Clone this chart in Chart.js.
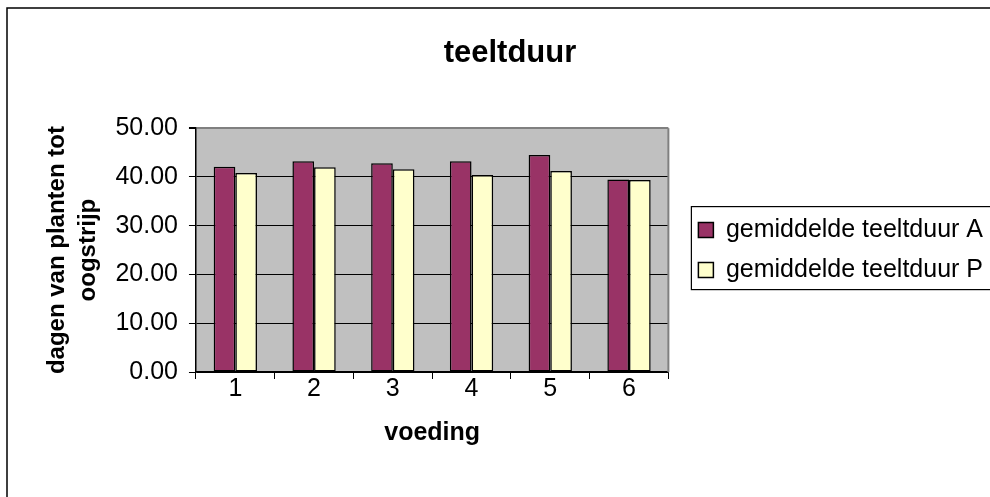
<!DOCTYPE html>
<html lang="nl">
<head>
  <meta charset="UTF-8">
  <title>teeltduur</title>
  <script src="https://cdn.jsdelivr.net/npm/chart.js"></script>
  <style>
    html, body {
      margin: 0;
      padding: 0;
      background: #fff;
      overflow: hidden;
    }
    #wrap {
      position: relative;
      width: 990px;
      height: 497px;
    }
  </style>
</head>
<body>
  <div id="wrap">
    <canvas id="teeltChart"></canvas>
  </div>

  <script>
    // values
    const voeding = ['1', '2', '3', '4', '5', '6'];
    const teeltduurA = [42.1, 43.2, 42.8, 43.2, 44.5, 39.5];
    const teeltduurP = [40.8, 42.0, 41.6, 40.4, 41.2, 39.4];
    const yTicks = [0, 10, 20, 30, 40, 50];

    Chart.defaults.font.family = '"Liberation Sans", Arial, sans-serif';
    Chart.defaults.color = '#000';

    // grey plot area, outer frame, legend frame
    const excelLook = {
      id: 'excelLook',
      afterLayout(chart) {
        // move legend a little right so it sits apart from the plot
        const l = chart.legend;
        l.left += 15;
        l.right += 15;
      },
      beforeDraw(chart) {
        const {ctx, chartArea: a} = chart;
        ctx.save();
        ctx.fillStyle = '#c0c0c0';
        ctx.fillRect(a.left, a.top, a.right - a.left, a.bottom - a.top);
        ctx.restore();
      },
      afterDraw(chart) {
        const {ctx, chartArea: a} = chart;
        ctx.save();
        // right edge of plot area
        ctx.strokeStyle = '#808080';
        ctx.lineWidth = 2;
        ctx.beginPath();
        ctx.moveTo(a.right, a.top);
        ctx.lineTo(a.right, a.bottom);
        ctx.stroke();

        // outer chart frame
        ctx.strokeStyle = '#000';
        ctx.lineWidth = 1.5;
        ctx.beginPath();
        ctx.moveTo(7, chart.height + 2);
        ctx.lineTo(7, 8);
        ctx.lineTo(chart.width + 2, 8);
        ctx.stroke();

        // legend frame
        const hb = chart.legend.legendHitBoxes;
        if (hb && hb.length) {
          const top = hb[0].top - 11;
          const bottom = hb[hb.length - 1].top + hb[hb.length - 1].height + 7;
          const left = chart.legend.left + 8;
          ctx.lineWidth = 1.2;
          ctx.strokeRect(left, top, chart.width + 10 - left, bottom - top);
        }
        ctx.restore();
      }
    };

    const ctx = document.getElementById('teeltChart').getContext('2d');

    const teeltChart = new Chart(ctx, {
      type: 'bar',
      data: {
        labels: voeding,
        datasets: [{
          label: 'gemiddelde teeltduur A',
          data: teeltduurA,
          backgroundColor: '#993366',
          borderColor: '#000',
          borderWidth: 1.5,
          borderSkipped: false
        }, {
          label: 'gemiddelde teeltduur P',
          data: teeltduurP,
          backgroundColor: '#ffffcc',
          borderColor: '#000',
          borderWidth: 1.5,
          borderSkipped: false
        }]
      },
      options: {
        responsive: true,
        maintainAspectRatio: false,
        animation: false,
        categoryPercentage: 0.55,
        barPercentage: 1,
        layout: {
          padding: {left: 42, right: 12, top: 0, bottom: 30}
        },
        plugins: {
          title: {
            display: true,
            text: 'teeltduur',
            font: {size: 31, weight: 'bold'},
            padding: {top: 35, bottom: 56}
          },
          legend: {
            position: 'right',
            fullSize: false,
            maxWidth: 420,
            labels: {
              boxWidth: 15,
              boxHeight: 15,
              padding: 15,
              font: {size: 25}
            }
          },
          tooltip: {enabled: false}
        },
        scales: {
          x: {
            grid: {
              display: true,
              drawOnChartArea: false,
              color: '#000',
              tickLength: 7,
              offset: true
            },
            border: {color: '#000', width: 1.5},
            ticks: {font: {size: 25}, padding: -5},
            title: {
              display: true,
              text: 'voeding',
              font: {size: 25, weight: 'bold'},
              padding: {top: 19, bottom: 19}
            }
          },
          y: {
            min: 0,
            max: 50,
            afterBuildTicks(scale) {
              scale.ticks = yTicks.map(v => ({value: v}));
            },
            grid: {
              color: c => (c.tick && c.tick.value === 50 ? '#808080' : '#000'),
              lineWidth: c => (c.tick && c.tick.value === 50 ? 2 : 1),
              tickColor: '#000',
              tickLength: 7
            },
            border: {color: '#000', width: 1.5},
            ticks: {
              font: {size: 25},
              padding: 11,
              callback: v => Number(v).toFixed(2)
            },
            title: {
              display: true,
              text: ['dagen van planten tot', 'oogstrijp'],
              font: {size: 24, weight: 'bold', lineHeight: 1.3},
              padding: {top: 0, bottom: 0}
            }
          }
        }
      },
      plugins: [excelLook]
    });
  </script>
</body>
</html>
